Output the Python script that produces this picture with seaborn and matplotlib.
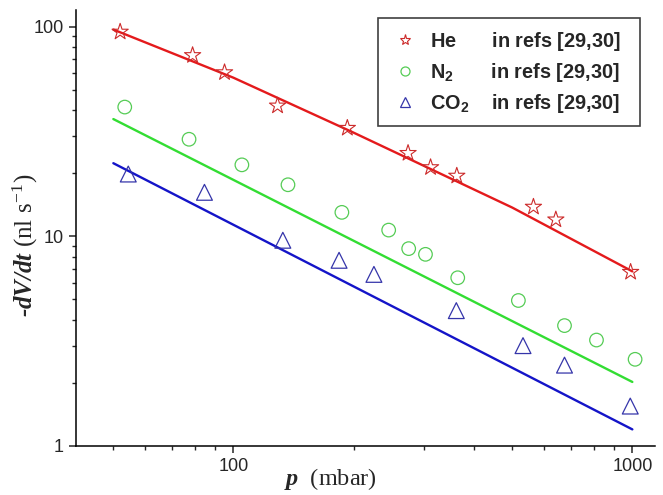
import numpy as np
import pandas as pd
import matplotlib
matplotlib.use("Agg")
import matplotlib.pyplot as plt
import matplotlib.ticker as mticker
from matplotlib.lines import Line2D
import seaborn as sns

he_p = [52, 79, 95, 129, 193, 274, 312, 363, 565, 643, 990]
he_rate = [94.3, 72.9, 60.4, 41.9, 32.8, 24.9, 21.3, 19.4, 13.8, 12.0, 6.75]
n2_p = [53.4, 77.4, 105, 137, 187, 245, 275, 303, 365, 518, 676, 813, 1016]
n2_rate = [41.3, 29.0, 21.9, 17.6, 13.0, 10.7, 8.73, 8.20, 6.34, 4.94, 3.75, 3.20, 2.59]
co2_p = [54.5, 84.6, 133, 184, 225, 362, 532, 676, 988]
co2_rate = [19.8, 16.2, 9.57, 7.68, 6.58, 4.42, 3.01, 2.43, 1.55]

# model curves
he_line_p = [50, 100, 200, 500, 1000]
he_line = [96.7, 57.0, 31.2, 13.7, 6.8]
n2_line_p = [50, 1000]
n2_line = [36.2, 2.02]
co2_line_p = [50, 1000]
co2_line = [22.3, 1.2]

gas_names = ["He", r"N$_\mathsf{2}$", r"CO$_\mathsf{2}$"]
gas_pad = [2.19, 2.29, 1.39]
ref_text = "in refs [29,30]"

sns.set_style("ticks")
plt.rcParams["font.family"] = ["Liberation Sans", "DejaVu Sans"]
plt.rcParams["mathtext.fontset"] = "custom"
plt.rcParams["mathtext.rm"] = "Liberation Serif"
plt.rcParams["mathtext.sf"] = "Liberation Sans:bold"
plt.rcParams["mathtext.it"] = "Liberation Sans:italic"

fig = plt.figure(figsize=(6.63, 4.95), dpi=100)
ax = fig.add_axes([0.1146, 0.099, 0.988 - 0.1146, 0.98 - 0.099])

red_line, green_line, blue_line = "#e41a1c", "#33dd33", "#1414c8"
red_pt, green_pt, blue_pt = "#cc2a2a", "#55cc55", "#3535aa"

sns.lineplot(x=he_line_p, y=he_line, color=red_line, lw=1.7, ax=ax)
sns.lineplot(x=n2_line_p, y=n2_line, color=green_line, lw=1.7, ax=ax)
sns.lineplot(x=co2_line_p, y=co2_line, color=blue_line, lw=1.7, ax=ax)

sns.scatterplot(x=he_p, y=he_rate, marker="*", s=150, facecolors="none",
                edgecolors=red_pt, linewidths=0.8, ax=ax, zorder=3)
sns.scatterplot(x=n2_p, y=n2_rate, marker="o", s=95, facecolors="none",
                edgecolors=green_pt, linewidths=0.9, ax=ax, zorder=3)
sns.scatterplot(x=co2_p, y=co2_rate, marker="^", s=130, facecolors="none",
                edgecolors=blue_pt, linewidths=0.9, ax=ax, zorder=3)

ax.set_xscale("log")
ax.set_yscale("log")
ax.set_xlim(40.3, 1140)
ax.set_ylim(1, 120)

fmt = mticker.FuncFormatter(lambda v, _: f"{v:g}")
for axis in (ax.xaxis, ax.yaxis):
    axis.set_major_locator(mticker.LogLocator(base=10))
    axis.set_minor_locator(mticker.LogLocator(base=10, subs=range(2, 10)))
    axis.set_major_formatter(fmt)
    axis.set_minor_formatter(mticker.NullFormatter())

ax.tick_params(which="major", direction="out", length=5, width=1.1, labelsize=13, pad=4)
ax.tick_params(which="minor", direction="out", length=3, width=1.0)
sns.despine(ax=ax)
for s in ("left", "bottom"):
    ax.spines[s].set_linewidth(1.1)
    ax.spines[s].set_color("black")

ax.set_xlabel(r"p  $\mathrm{(mbar)}$", fontfamily="Liberation Serif",
              fontweight="bold", fontstyle="italic", fontsize=17.5)
ax.xaxis.set_label_coords(0.44, -0.046)
ax.set_ylabel(r"-dV/dt $\mathrm{(nl\ s^{-1})}$", fontfamily="Liberation Serif",
              fontweight="bold", fontstyle="italic", fontsize=18)
ax.yaxis.set_label_coords(-0.062, 0.46)

handles = [
    Line2D([], [], ls="none", marker="*", ms=8, mfc="none", mec=red_pt, mew=0.8),
    Line2D([], [], ls="none", marker="o", ms=6.5, mfc="none", mec=green_pt, mew=0.9),
    Line2D([], [], ls="none", marker="^", ms=7, mfc="none", mec=blue_pt, mew=0.9),
]
labels = [name + r"$\hspace{%.2f}$" % pad + ref_text for name, pad in zip(gas_names, gas_pad)]
leg = ax.legend(handles, labels, loc="upper left", bbox_to_anchor=(0.5216, 0.736, 0.4524, 0.246),
                mode="expand", borderaxespad=0, frameon=True, fancybox=False, framealpha=1,
                edgecolor="#404040", prop={"family": "Liberation Sans", "weight": "bold", "size": 14.3},
                labelspacing=0.4, borderpad=0.6, handletextpad=0.5, handlelength=1.5)
leg.get_frame().set_linewidth(1.2)

fig.savefig("out.png", dpi=100)
